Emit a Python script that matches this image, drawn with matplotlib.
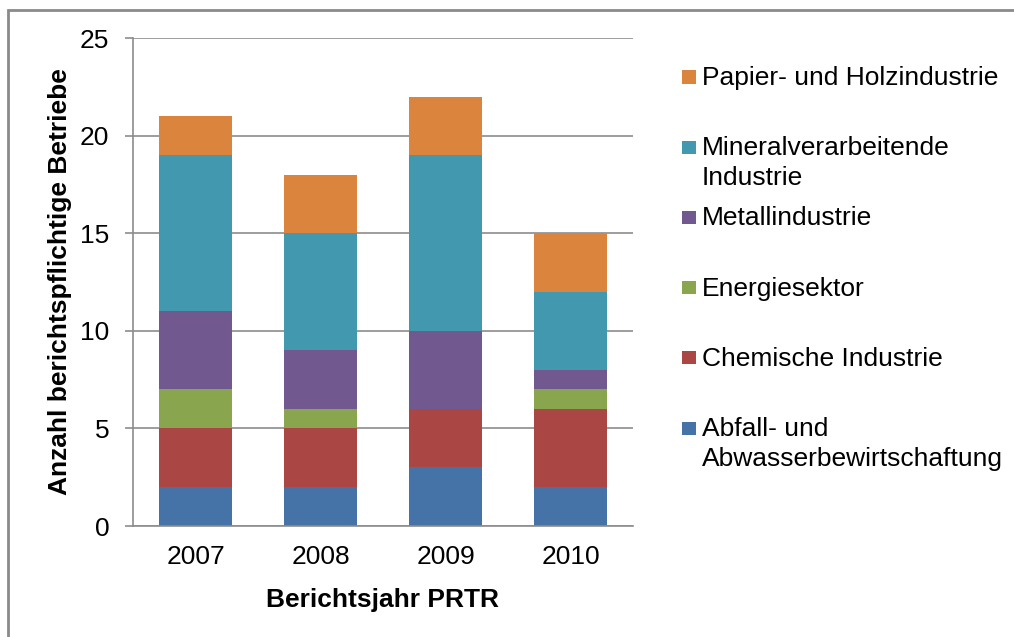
import matplotlib.pyplot as plt
from matplotlib.patches import Rectangle
import numpy as np

plt.rcParams['font.family'] = ['Liberation Sans', 'DejaVu Sans']

# PRTR reporting facilities per sector and year
years = ['2007', '2008', '2009', '2010']
abfall = [2, 2, 3, 2]
chemie = [3, 3, 3, 4]
energie = [2, 1, 0, 1]
metall = [4, 3, 4, 1]
mineral = [8, 6, 9, 4]
papier = [2, 3, 3, 3]

series = [abfall, chemie, energie, metall, mineral, papier]
labels = ['Abfall- und\nAbwasserbewirtschaftung', 'Chemische Industrie', 'Energiesektor',
          'Metallindustrie', 'Mineralverarbeitende\nIndustrie', 'Papier- und Holzindustrie']
colors = ['#4572A7', '#AA4643', '#89A54E', '#71588F', '#4198AF', '#DB843D']

W, H = 1014, 637
fig = plt.figure(figsize=(W / 100, H / 100), dpi=100)
ax = fig.add_axes([133 / W, 1 - 526 / H, 500 / W, 488 / H])

x = np.arange(len(years))
bottom = np.zeros(len(years))
for vals, col in zip(series, colors):
    ax.bar(x, vals, 0.58, bottom=bottom, color=col, zorder=3)
    bottom += np.array(vals)

ax.set_xlim(-0.5, len(years) - 0.5)
ax.set_ylim(0, 25)
ax.set_yticks(range(0, 26, 5))
ax.set_xticks(x)
ax.set_xticklabels(years)
ax.grid(axis='y', color='#8c8c8c', linewidth=1.2, zorder=0)
ax.tick_params(axis='y', length=6, width=1.2, color='#8c8c8c', pad=11, labelsize=19)
ax.tick_params(axis='x', length=0, pad=14, labelsize=19)
for s in ['top', 'right']:
    ax.spines[s].set_visible(False)
for s in ['left', 'bottom']:
    ax.spines[s].set_color('#8c8c8c')
    ax.spines[s].set_linewidth(1.2)
ax.spines['bottom'].set_zorder(4)

ax.set_ylabel('Anzahl berichtspflichtige Betriebe', fontsize=19, fontweight='bold', labelpad=6)
ax.set_xlabel('Berichtsjahr PRTR', fontsize=19, fontweight='bold', labelpad=13)

# legend, top entry first
for i, (lab, col) in enumerate(zip(labels[::-1], colors[::-1])):
    yc = 77 + i * 70.2
    fig.patches.append(Rectangle((682 / W, 1 - (yc + 6.5) / H), 14 / W, 13 / H,
                                 transform=fig.transFigure, facecolor=col, edgecolor='none'))
    fig.text(702 / W, 1 - (yc - 11) / H, lab, fontsize=19, va='top', ha='left',
             linespacing=1.3)

# outer chart frame
fig.patches.append(Rectangle((8 / W, -0.1), 1.2, 1 - 10 / H + 0.1, transform=fig.transFigure,
                             facecolor='none', edgecolor='#8a8a8a', linewidth=2))

fig.savefig('out.png', dpi=100)
